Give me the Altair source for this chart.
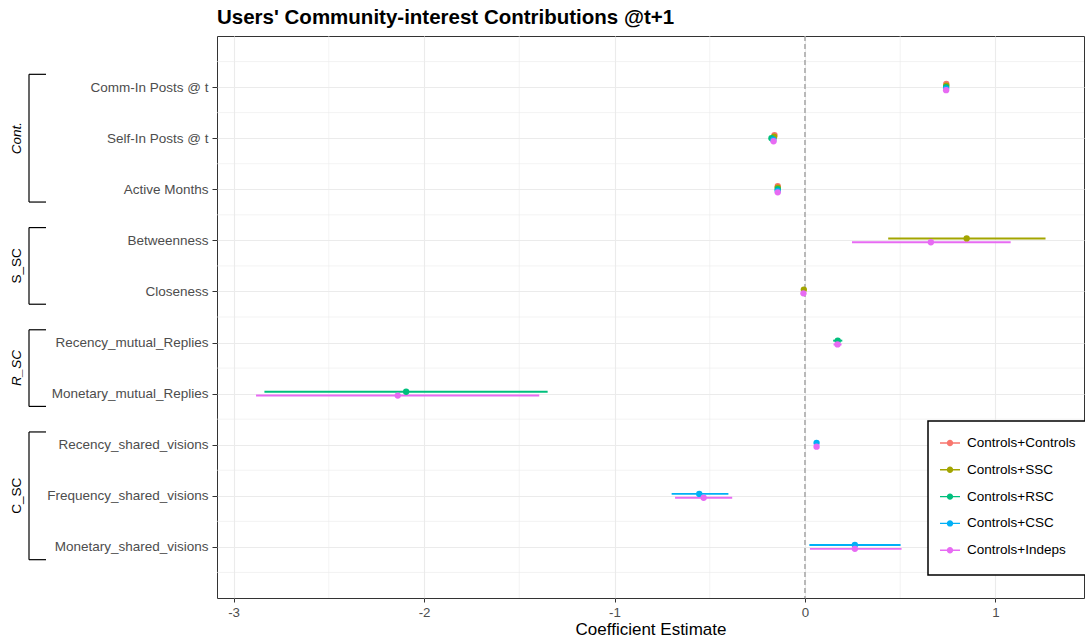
import json
import altair as alt
import pandas as pd

variables = [
    "Comm-In Posts @ t", "Self-In Posts @ t", "Active Months", "Betweenness", "Closeness",
    "Recency_mutual_Replies", "Monetary_mutual_Replies", "Recency_shared_visions",
    "Frequency_shared_visions", "Monetary_shared_visions",
]
models = ["Controls+Controls", "Controls+SSC", "Controls+RSC", "Controls+CSC", "Controls+Indeps"]
palette = ["#F8766D", "#A3A500", "#00BF7D", "#00B0F6", "#E76BF3"]

# Coefficient estimates per model (None = term not in that model)
estimate = {
    "Controls+Controls": [0.742, -0.160, -0.143, None, None, None, None, None, None, None],
    "Controls+SSC":      [0.742, -0.162, -0.143, 0.849, -0.006, None, None, None, None, None],
    "Controls+RSC":      [0.741, -0.176, -0.143, None, None, 0.172, -2.094, None, None, None],
    "Controls+CSC":      [0.741, -0.166, -0.143, None, None, None, None, 0.061, -0.555, 0.262],
    "Controls+Indeps":   [0.741, -0.165, -0.143, 0.661, -0.008, 0.171, -2.138, 0.061, -0.532, 0.262],
}
lower = {
    "Controls+Controls": [0.734, -0.168, -0.148, None, None, None, None, None, None, None],
    "Controls+SSC":      [0.734, -0.170, -0.148, 0.437, -0.012, None, None, None, None, None],
    "Controls+RSC":      [0.733, -0.184, -0.148, None, None, 0.148, -2.838, None, None, None],
    "Controls+CSC":      [0.733, -0.174, -0.148, None, None, None, None, 0.054, -0.700, 0.023],
    "Controls+Indeps":   [0.733, -0.173, -0.148, 0.247, -0.014, 0.150, -2.882, 0.054, -0.682, 0.026],
}
upper = {
    "Controls+Controls": [0.750, -0.152, -0.138, None, None, None, None, None, None, None],
    "Controls+SSC":      [0.750, -0.154, -0.138, 1.263, 0.000, None, None, None, None, None],
    "Controls+RSC":      [0.749, -0.168, -0.138, None, None, 0.196, -1.351, None, None, None],
    "Controls+CSC":      [0.749, -0.158, -0.138, None, None, None, None, 0.068, -0.402, 0.502],
    "Controls+Indeps":   [0.749, -0.157, -0.138, 1.080, -0.002, 0.192, -1.395, 0.068, -0.382, 0.507],
}

# Variable groups drawn as brackets left of the axis labels
group_names = ["Cont.", "S_SC", "R_SC", "C_SC"]
group_first = ["Comm-In Posts @ t", "Betweenness", "Recency_mutual_Replies", "Recency_shared_visions"]
group_last = ["Active Months", "Closeness", "Monetary_mutual_Replies", "Monetary_shared_visions"]
group_italic = [True, False, True, False]

x_ticks = [-3, -2, -1, 0, 1]
FONT = "Liberation Sans"
DODGE = 0.15

# Long table with a vertical dodge inside each variable row
rows = []
for vi, var in enumerate(variables):
    present = [m for m in models if estimate[m][vi] is not None]
    n = len(present)
    for k, m in enumerate(present):
        rows.append({
            "variable": var,
            "model": m,
            "hex": palette[models.index(m)],
            "estimate": estimate[m][vi],
            "lo": lower[m][vi],
            "hi": upper[m][vi],
            "pos": vi + (k - (n - 1) / 2) * DODGE / n,
            "order": models.index(m),
        })
df = pd.DataFrame(rows)

groups = pd.DataFrame({
    "name": group_names,
    "top": [variables.index(v) - 0.25 for v in group_first],
    "bottom": [variables.index(v) + 0.25 for v in group_last],
    "italic": group_italic,
})
groups["mid"] = (groups["top"] + groups["bottom"]) / 2

x_min, x_max = -3.087, 1.465
y_dom = [-1, len(variables)]
xs = alt.Scale(domain=[x_min, x_max], nice=False, zero=False)
ys = alt.Scale(domain=y_dom, reverse=True, nice=False, zero=False)

y_label_expr = json.dumps(variables) + "[datum.value]"
x_label_expr = "datum.value < 0 ? '-' + abs(datum.value) : '' + datum.value"

# Minor gridlines halfway between the major ones
minor_x = pd.DataFrame({"x": [t + 0.5 for t in x_ticks[:-1]]})
minor_y = pd.DataFrame({"y": [i - 0.5 for i in range(len(variables) + 1)]})

grid_x = alt.Chart(minor_x).mark_rule(color="#EBEBEB", strokeWidth=0.6).encode(
    x=alt.X("x:Q", scale=xs, axis=alt.Axis(
        values=x_ticks, labelExpr=x_label_expr, title="Coefficient Estimate", grid=True,
        gridColor="#EBEBEB", gridWidth=1.1, domain=False, tickColor="#333333", tickSize=4,
        labelPadding=3, labelFontSize=13.3, labelColor="#4D4D4D", labelFont=FONT,
        titleFont=FONT, titleFontSize=17, titleFontWeight="normal", titleColor="black",
        titlePadding=3,
    ))
)
grid_y = alt.Chart(minor_y).mark_rule(color="#EBEBEB", strokeWidth=0.6).encode(
    y=alt.Y("y:Q", scale=ys, axis=alt.Axis(
        values=list(range(len(variables))), labelExpr=y_label_expr, title=None, grid=True,
        gridColor="#EBEBEB", gridWidth=1.1, domain=False, tickColor="#333333", tickSize=5,
        labelPadding=4, labelFontSize=13.5, labelColor="#4D4D4D", labelFont=FONT,
    ))
)

zero_line = alt.Chart(pd.DataFrame({"x": [0]})).mark_rule(
    color="#9A9A9A", strokeWidth=1.3, strokeDash=[5, 3]
).encode(x=alt.X("x:Q", scale=xs))

color_scale = alt.Scale(domain=models, range=palette)

# Interval bars take their colour straight from the hex column (no legend of their own)
bars = alt.Chart(df).mark_rule(strokeWidth=1.9).encode(
    x=alt.X("lo:Q", scale=xs),
    x2="hi:Q",
    y=alt.Y("pos:Q", scale=ys),
    color=alt.Color("hex:N", scale=None),
    order="order:Q",
)

# Legend key: a short horizontal bar with a dot in its middle (both filled);
# the two zero-area slivers at top and bottom only set the key's height.
legend_symbol = (
    "M-0.01,-1.25L0.01,-1.25L0,-1.25Z"
    "M-1,-0.07L1,-0.07L1,0.07L-1,0.07Z"
    "M-0.32,0a0.32,0.32 0 1,1 0.64,0a0.32,0.32 0 1,1 -0.64,0Z"
    "M-0.01,1.25L0.01,1.25L0,1.25Z"
)
points = alt.Chart(df).mark_point(filled=True, size=40, opacity=1).encode(
    x=alt.X("estimate:Q", scale=xs),
    y=alt.Y("pos:Q", scale=ys),
    color=alt.Color("model:N", scale=color_scale, legend=alt.Legend(
        title=None, orient="none", legendX=711, legendY=385,
        symbolType=legend_symbol, symbolSize=400, symbolStrokeWidth=0,
        labelFontSize=13.5, labelFont=FONT, labelColor="black", labelOffset=7,
        rowPadding=0.8, padding=12, fillColor="white", strokeColor="black",
        symbolOpacity=1,
    )),
    order="order:Q",
)

bracket_v = alt.Chart(groups).mark_rule(color="black", strokeWidth=1.2).encode(
    x=alt.value(-188),
    y=alt.Y("top:Q", scale=ys),
    y2="bottom:Q",
)
bracket_top = alt.Chart(groups).mark_rule(color="black", strokeWidth=1.2).encode(
    x=alt.value(-188), x2=alt.value(-171), y=alt.Y("top:Q", scale=ys),
)
bracket_bottom = alt.Chart(groups).mark_rule(color="black", strokeWidth=1.2).encode(
    x=alt.value(-188), x2=alt.value(-171), y=alt.Y("bottom:Q", scale=ys),
)
group_text_it = alt.Chart(groups).transform_filter("datum.italic").mark_text(
    angle=270, fontSize=13.5, font=FONT, fontStyle="italic", color="black", baseline="middle"
).encode(x=alt.value(-200), y=alt.Y("mid:Q", scale=ys), text="name:N")
group_text = alt.Chart(groups).transform_filter("!datum.italic").mark_text(
    angle=270, fontSize=13.5, font=FONT, color="black", baseline="middle"
).encode(x=alt.value(-200), y=alt.Y("mid:Q", scale=ys), text="name:N")

chart = alt.layer(
    grid_x, grid_y, zero_line, bars, points,
    bracket_v, bracket_top, bracket_bottom, group_text_it, group_text,
).properties(
    width=867,
    height=562,
    autosize=alt.AutoSizeParams(type="none"),
    padding={"left": 217, "top": 36, "right": 1, "bottom": 45},
    title=alt.TitleParams(
        "Users' Community-interest Contributions @t+1", anchor="start", frame="group",
        fontSize=20.5, fontWeight="bold", font=FONT, color="black", offset=7,
    ),
).configure_view(
    stroke="#333333", strokeWidth=1
).configure_legend(strokeWidth=1.5)

chart.save("out.html", embed_options={"renderer": "svg", "actions": False})
